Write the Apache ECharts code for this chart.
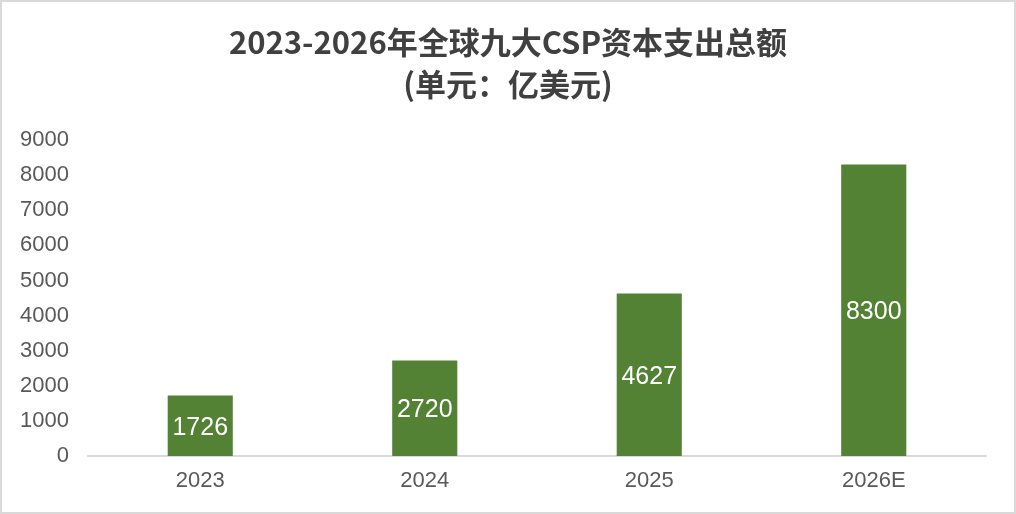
<!DOCTYPE html>
<html><head><meta charset="utf-8">
<script src="https://cdn.jsdelivr.net/npm/echarts@6/dist/echarts.min.js"></script>
<style>
html,body{margin:0;padding:0;background:#fff;}
#c{width:1012px;height:510px;border:2px solid #d9d9d9;}
</style></head>
<body><div id="c"></div>
<script>
const categories = ['2023','2024','2025','2026E'];
const values = [1726, 2720, 4627, 8300];
const titleText = '2023-2026年全球九大CSP资本支出总额\n(单元：亿美元)';

const chart = echarts.init(document.getElementById('c'));
chart.setOption({
  backgroundColor:'#fff',
  animation:false,
  title:{
    text:titleText, left:'center', top:14,
    textStyle:{fontFamily:'"Noto Sans CJK SC", sans-serif', fontSize:31, fontWeight:'bold', color:'#404040', lineHeight:42}
  },
  grid:{left:86, right:28, top:138, bottom:56},
  xAxis:{
    type:'category', data:categories,
    axisLine:{lineStyle:{color:'#d9d9d9', width:2}},
    axisTick:{show:false},
    axisLabel:{fontFamily:'"Liberation Sans", Arial, sans-serif', fontSize:22, color:'#595959', margin:14}
  },
  yAxis:{
    type:'value', min:0, max:9000, interval:1000,
    axisLine:{show:false}, axisTick:{show:false},
    splitLine:{show:false},
    axisLabel:{fontFamily:'"Liberation Sans", Arial, sans-serif', fontSize:22, color:'#595959', margin:19,
      formatter:function(v){return String(v);}}
  },
  series:[{
    type:'bar', data:values, barWidth:'29%',
    itemStyle:{color:'#548235'},
    label:{show:true, position:'inside', offset:[0,2], color:'#fff', fontSize:25, fontFamily:'"Liberation Sans", Arial, sans-serif'}
  }]
});
</script></body></html>
